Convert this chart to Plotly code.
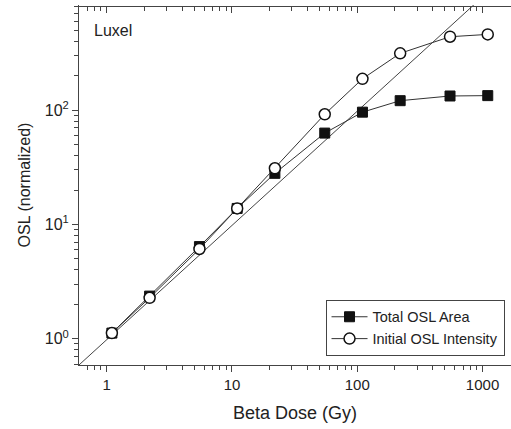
import plotly.graph_objects as go

dose = [1.1, 2.2, 5.5, 11, 22, 55, 110, 220, 550, 1100]
total_area = [1.12, 2.36, 6.4, 13.8, 28, 63, 96, 121, 133, 134]
initial_intensity = [1.12, 2.28, 6.1, 13.8, 31, 92, 188, 314, 439, 460]
fit_dose = [0.5, 2000]
fit_osl = [0.49, 1960]

xtick_vals = [1, 10, 100, 1000]
xtick_text = ["1", "10", "100", "1000"]
ytick_vals = [1, 10, 100]
ytick_text = ["10<sup>0</sup>", "10<sup>1</sup>", "10<sup>2</sup>"]

FONT = "Liberation Sans, Arial, sans-serif"
INK = "#222"
AX = "#444"

fig = go.Figure()
fig.add_trace(go.Scatter(x=fit_dose, y=fit_osl, mode="lines",
                         line=dict(color="#444", width=1), showlegend=False,
                         hoverinfo="skip"))
fig.add_trace(go.Scatter(x=dose, y=total_area, mode="lines+markers",
                         name="Total OSL Area",
                         line=dict(color="#333", width=1),
                         marker=dict(symbol="square", size=10, color="#111",
                                     line=dict(color="#111", width=1))))
fig.add_trace(go.Scatter(x=dose, y=initial_intensity, mode="lines+markers",
                         name="Initial OSL Intensity",
                         line=dict(color="#333", width=1),
                         marker=dict(symbol="circle", size=11, color="white",
                                     line=dict(color="#111", width=1.5))))
# invisible trace carrying the thin top strip whose axis draws the top ticks
fig.add_trace(go.Scatter(x=xtick_vals, y=[0, 0, 0, 0], xaxis="x2", yaxis="y2",
                         mode="markers", marker=dict(opacity=0),
                         showlegend=False, hoverinfo="skip"))

xr = [-0.221, 3.227]
yr = [-0.230, 2.920]

fig.update_layout(
    width=511, height=429,
    margin=dict(l=79, r=0, t=5, b=64, autoexpand=False),
    paper_bgcolor="white", plot_bgcolor="rgba(0,0,0,0)",
    font=dict(family=FONT, color=INK, size=15),
    xaxis=dict(type="log", range=xr, tickvals=xtick_vals, ticktext=xtick_text,
               ticks="outside", ticklen=6, tickcolor=AX, tickwidth=1,
               showline=True, linecolor=AX, linewidth=1,
               showgrid=False, zeroline=False,
               minor=dict(ticks="outside", ticklen=4, tickcolor=AX,
                          dtick="D1", showgrid=False),
               title=dict(text="Beta Dose (Gy)", font=dict(size=18), standoff=14),
               tickfont=dict(size=15)),
    xaxis2=dict(type="log", range=xr, anchor="y2", side="bottom",
                tickvals=xtick_vals, showticklabels=False,
                ticks="outside", ticklen=6, tickcolor=AX, tickwidth=1,
                showline=True, linecolor=AX, linewidth=1,
                showgrid=False, zeroline=False,
                minor=dict(ticks="outside", ticklen=4, tickcolor=AX,
                           dtick="D1", showgrid=False)),
    yaxis2=dict(domain=[0.998, 1], range=[-1, 1], visible=False,
                showgrid=False, zeroline=False),
    yaxis=dict(type="log", range=yr, domain=[0, 1],
               tickvals=ytick_vals, ticktext=ytick_text,
               ticks="outside", ticklen=6, tickcolor=AX, tickwidth=1,
               showline=True, linecolor=AX, linewidth=1,
               showgrid=False, zeroline=False,
               minor=dict(ticks="outside", ticklen=4, tickcolor=AX,
                          dtick="D1", showgrid=False),
               title=dict(text="OSL (normalized)", font=dict(size=16), standoff=10),
               tickfont=dict(size=16)),
    legend=dict(x=0.985, xanchor="right", y=0.181, yanchor="top",
                bordercolor=AX, borderwidth=1, bgcolor="white",
                font=dict(size=14.5, color=INK), tracegroupgap=0,
                itemwidth=36),
    annotations=[dict(text="Luxel", x=0.03, y=0.958, xref="paper", yref="paper",
                      xanchor="left", yanchor="top", showarrow=False,
                      font=dict(size=16, color=INK))],
)

fig.write_html("out.html", config={"displayModeBar": False},
               post_script="document.body.style.margin='0';document.body.style.padding='0';")
